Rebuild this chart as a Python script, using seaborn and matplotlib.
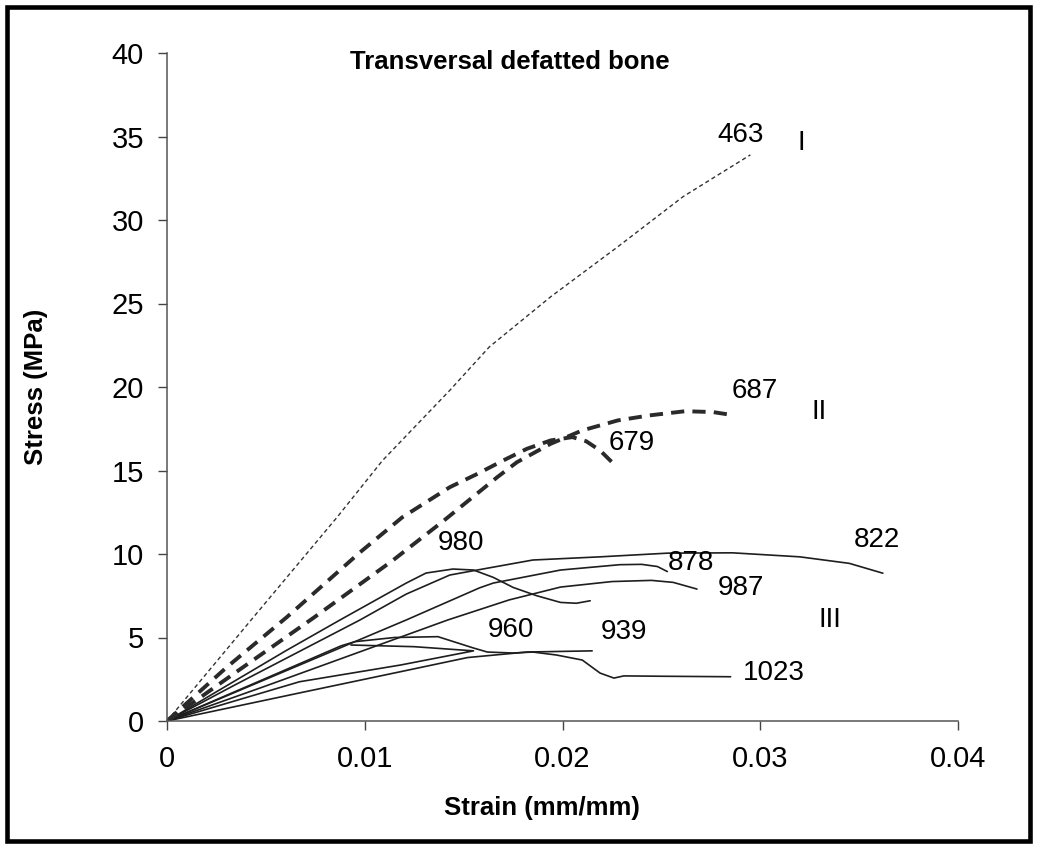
import numpy as np
import pandas as pd
import matplotlib
matplotlib.use("Agg")
import matplotlib.pyplot as plt
from matplotlib.patches import Rectangle
import seaborn as sns

# ---------------- data ----------------
strain_463 = [0, 0.00436, 0.0086, 0.0109, 0.0143, 0.0163, 0.0194, 0.0228, 0.0261, 0.0295]
stress_463 = [0, 6.2, 12.2, 15.6, 19.8, 22.4, 25.4, 28.4, 31.4, 33.9]

strain_679 = [0, 0.0030, 0.00607, 0.00976, 0.0119, 0.0131, 0.0143, 0.0157, 0.0170, 0.0182, 0.0194, 0.0205, 0.0212, 0.0219, 0.0225]
stress_679 = [0, 3.2, 6.23, 10.1, 12.2, 13.1, 14.0, 14.8, 15.6, 16.3, 16.8, 17.0, 16.75, 16.2, 15.5]

strain_687 = [0, 0.0037, 0.0074, 0.0114, 0.0140, 0.0167, 0.0177, 0.0194, 0.0210, 0.0228, 0.0244, 0.0262, 0.0276, 0.0287]
stress_687 = [0, 3.1, 6.17, 9.6, 12.0, 14.6, 15.5, 16.6, 17.4, 18.0, 18.3, 18.55, 18.5, 18.3]

strain_980 = [0, 0.003, 0.006, 0.00875, 0.0121, 0.0131, 0.01446, 0.0155, 0.0165, 0.0175, 0.0187, 0.0199, 0.0207, 0.0214]
stress_980 = [0, 2.1, 4.2, 6.05, 8.26, 8.86, 9.1, 9.04, 8.6, 8.0, 7.5, 7.1, 7.05, 7.2]

strain_822 = [0, 0.0035, 0.00976, 0.0121, 0.0143, 0.0155, 0.0185, 0.0219, 0.0253, 0.0286, 0.0320, 0.0345, 0.0362]
stress_822 = [0, 2.2, 6.05, 7.6, 8.74, 9.0, 9.64, 9.83, 10.05, 10.07, 9.83, 9.44, 8.85]

strain_878 = [0, 0.004, 0.0121, 0.0158, 0.0165, 0.0199, 0.0229, 0.0240, 0.0248, 0.0253]
stress_878 = [0, 2.0, 6.05, 7.97, 8.26, 9.04, 9.36, 9.38, 9.25, 8.95]

strain_987 = [0, 0.005, 0.0142, 0.0173, 0.0199, 0.0225, 0.0245, 0.0256, 0.0268]
stress_987 = [0, 2.1, 6.05, 7.25, 8.02, 8.35, 8.42, 8.3, 7.9]

strain_1023 = [0, 0.0045, 0.0088, 0.0095, 0.0115, 0.0137, 0.0155, 0.0162, 0.0175, 0.0185, 0.0197, 0.0210, 0.0219, 0.0226, 0.0231, 0.0250, 0.0285]
stress_1023 = [0, 2.3, 4.5, 4.75, 5.0, 5.05, 4.37, 4.13, 4.07, 4.13, 3.95, 3.65, 2.87, 2.57, 2.7, 2.68, 2.65]

strain_960 = [0, 0.0067, 0.0118, 0.0155, 0.0125, 0.0093]
stress_960 = [0, 2.35, 3.35, 4.2, 4.45, 4.55]

strain_939 = [0, 0.0067, 0.0118, 0.0152, 0.0182, 0.0215]
stress_939 = [0, 1.68, 2.95, 3.8, 4.13, 4.2]

label_text = ["463", "I", "687", "II", "679", "980", "822", "878", "987", "III", "960", "939", "1023"]
label_x = [0.0290, 0.0321, 0.0297, 0.0330, 0.0235, 0.01485, 0.0359, 0.0265, 0.0290, 0.0335, 0.0174, 0.0231, 0.0307]
label_y = [35.1, 34.6, 19.76, 18.5, 16.65, 10.66, 10.84, 9.46, 7.96, 6.05, 5.45, 5.33, 2.87]

x_ticks = [0, 0.01, 0.02, 0.03, 0.04]
x_tick_labels = ["0", "0.01", "0.02", "0.03", "0.04"]
y_ticks = [0, 5, 10, 15, 20, 25, 30, 35, 40]

title = "Transversal defatted bone"
x_label = "Strain (mm/mm)"
y_label = "Stress (MPa)"

# ---------------- styling ----------------
sns.set_style("ticks")
plt.rcParams["font.family"] = ["Liberation Sans", "DejaVu Sans"]
plt.rcParams["text.color"] = "black"
plt.rcParams["axes.labelcolor"] = "black"
plt.rcParams["xtick.color"] = "black"
plt.rcParams["ytick.color"] = "black"

W, H = 1037, 848
fig = plt.figure(figsize=(W / 100, H / 100), dpi=100)
left, right, top, bottom = 167, 958, 53, 721
ax = fig.add_axes([left / W, 1 - bottom / H, (right - left) / W, (bottom - top) / H])

line_col = "#1e1e1e"

def draw(xs, ys, lw, dashes=None, color=line_col):
    df = pd.DataFrame({"strain": xs, "stress": ys})
    n0 = len(ax.lines)
    sns.lineplot(data=df, x="strain", y="stress", sort=False, estimator=None,
                 ax=ax, color=color, linewidth=lw)
    ln = ax.lines[n0]
    if dashes is not None:
        ln.set_dashes(dashes)
    ln.set_solid_joinstyle("round")
    return ln

# solid curves
for xs, ys in [(strain_822, stress_822), (strain_878, stress_878), (strain_987, stress_987),
               (strain_980, stress_980), (strain_1023, stress_1023), (strain_960, stress_960),
               (strain_939, stress_939)]:
    draw(xs, ys, 1.2)

# thick dashed
draw(strain_687, stress_687, 2.8, dashes=(3.4, 2.1), color="#2a2a2a")
draw(strain_679, stress_679, 2.8, dashes=(3.4, 2.1), color="#2a2a2a")
# fine dotted
draw(strain_463, stress_463, 1.0, dashes=(3.0, 2.2), color="#333333")

for t, x, y in zip(label_text, label_x, label_y):
    ax.text(x, y, t, ha="center", va="center", fontsize=20, color="black")

ax.set_xlim(0, 0.04)
ax.set_ylim(0, 40)
ax.set_xticks(x_ticks)
ax.set_xticklabels(x_tick_labels)
ax.set_yticks(y_ticks)
ax.tick_params(axis="both", labelsize=21, length=6.5, width=1.0, color="#444444",
               labelcolor="black")
ax.tick_params(axis="y", pad=10)
ax.tick_params(axis="x", pad=10.5)
ax.set_xlabel("")
ax.set_ylabel("")
sns.despine(ax=ax, top=True, right=True)
for s in ["left", "bottom"]:
    ax.spines[s].set_color("#555555")
    ax.spines[s].set_linewidth(1.1)

fig.text(510 / W, 1 - 69 / H, title, ha="center", va="baseline",
         fontsize=18.5, fontweight="bold", color="black")
fig.text(542 / W, 1 - 815 / H, x_label, ha="center", va="baseline",
         fontsize=18.5, fontweight="bold", color="black")
fig.text(36 / W, 1 - 387 / H, y_label, ha="center", va="center", rotation=90,
         fontsize=18.5, fontweight="bold", color="black")

fig.patches.append(Rectangle((7 / W, 7 / H), (W - 14) / W, (H - 14) / H,
                             transform=fig.transFigure, fill=False,
                             edgecolor="black", linewidth=3.3))

fig.savefig("out.png", dpi=100, facecolor="white")
